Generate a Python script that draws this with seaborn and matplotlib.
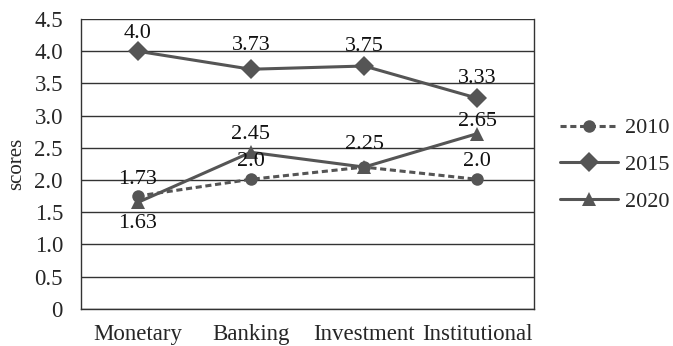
import matplotlib
matplotlib.use("Agg")
import matplotlib.pyplot as plt
import seaborn as sns
import pandas as pd
from matplotlib.lines import Line2D

categories = ["Monetary", "Banking", "Investment", "Institutional"]
years = ["2010", "2015", "2020"]
scores_2010 = [1.75, 2.01, 2.2, 2.01]
scores_2015 = [4.0, 3.72, 3.77, 3.27]
scores_2020 = [1.65, 2.43, 2.2, 2.72]
labels_2010 = ["1.73", "2.0", "", "2.0"]
labels_2015 = ["4.0", "3.73", "3.75", "3.33"]
labels_2020 = ["1.63", "2.45", "2.25", "2.65"]
yticks = [0, 0.5, 1.0, 1.5, 2.0, 2.5, 3.0, 3.5, 4.0, 4.5]
ytick_labels = ["0", "0.5", "1.0", "1.5", "2.0", "2.5", "3.0", "3.5", "4.0", "4.5"]

sns.set_style("white")
plt.rcParams["font.family"] = ["Liberation Serif", "DejaVu Serif"]

fig = plt.figure(figsize=(6.73, 3.46), dpi=100)
ax = fig.add_axes([0.1204, 0.1078, 0.673, 0.8372])

color = "#555555"
series = {"2010": (scores_2010, labels_2010), "2015": (scores_2015, labels_2015),
          "2020": (scores_2020, labels_2020)}
markers = {"2010": "o", "2015": "D", "2020": "^"}
msizes = {"2010": 9, "2015": 10, "2020": 10}
dashes = {"2010": (2.0, 1.2), "2015": "", "2020": ""}

for y in yticks:
    ax.axhline(y, color="#333333", lw=1.0, zorder=0)

pos = list(range(len(categories)))
for yr in years:
    vals, _ = series[yr]
    df = pd.DataFrame({"x": pos, "y": vals})
    sns.lineplot(data=df, x="x", y="y", ax=ax, color=color, lw=2.2,
                 marker=markers[yr], markersize=msizes[yr], markeredgewidth=0,
                 markeredgecolor=color, label=None, legend=False, zorder=3)
    line = ax.get_lines()[-1]
    if dashes[yr]:
        line.set_dashes(dashes[yr])

offs = {
    "2010": [12, 13, 0, 13],
    "2015": [13, 17, 14, 14],
    "2020": [-15, 13, 16, 9],
}
for yr in years:
    vals, labs = series[yr]
    for i, (v, l) in enumerate(zip(vals, labs)):
        if not l:
            continue
        ax.annotate(l, (i, v), xytext=(0, offs[yr][i]), textcoords="offset points",
                    ha="center", va="center", fontsize=16, color="#111111", zorder=5)

ax.set_xlim(-0.5, 3.5)
ax.set_ylim(0, 4.5)
ax.set_yticks(yticks)
ax.set_yticklabels(ytick_labels, fontsize=16.5)
ax.set_xticks(pos)
ax.set_xticklabels(categories, fontsize=16.5)
ax.set_xticks([-0.5, 0.5, 1.5, 2.5, 3.5], minor=True)
ax.tick_params(axis="x", which="major", length=0, pad=11)
ax.tick_params(axis="x", which="minor", length=5, width=1, color="#333333", direction="out")
ax.tick_params(axis="y", length=5, width=1, color="#333333", direction="out", pad=8)
ax.set_xlabel("")
ax.set_ylabel("scores", fontsize=15, labelpad=6)
for s in ["left", "bottom", "right"]:
    ax.spines[s].set_visible(True)
    ax.spines[s].set_color("#333333")
    ax.spines[s].set_linewidth(1.0)
ax.spines["top"].set_visible(False)

handles = []
for yr in years:
    h = Line2D([], [], color=color, lw=2.2, marker=markers[yr], markersize=msizes[yr],
               markeredgewidth=0)
    if dashes[yr]:
        h.set_dashes(dashes[yr])
    handles.append(h)
leg = fig.legend(handles, years, loc="center left", bbox_to_anchor=(0.832, 0.524),
                 frameon=False, fontsize=16, handlelength=2.6, labelspacing=0.72,
                 handletextpad=0.35, borderaxespad=0, borderpad=0)

fig.savefig("out.png", dpi=100)
